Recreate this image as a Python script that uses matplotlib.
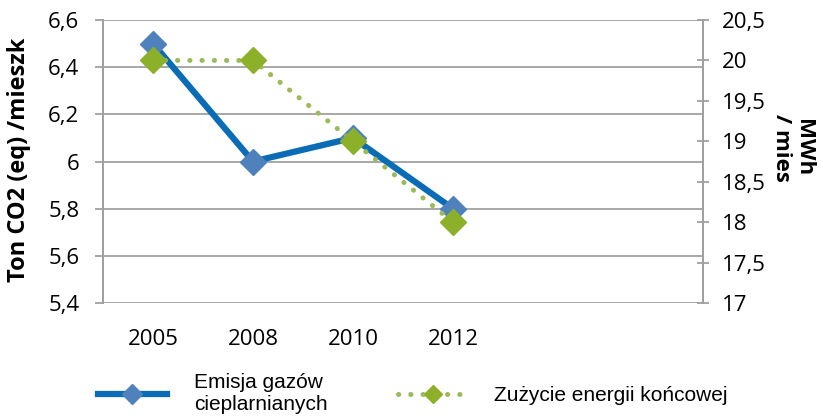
import numpy as np
import matplotlib
matplotlib.use("Agg")
import matplotlib.pyplot as plt
from matplotlib.ticker import FuncFormatter, MultipleLocator
from matplotlib.lines import Line2D

# data
years = ['2005', '2008', '2010', '2012']
n_slots = 6  # chart reserves room for 6 categories
emisja = [6.5, 6.0, 6.1, 5.8]
zuzycie = [20.0, 20.0, 19.0, 18.0]

label_emisja = 'Emisja gazów\ncieplarnianych'
label_zuzycie = 'Zużycie energii końcowej'
ylabel_left = 'Ton CO2 (eq) /mieszk'
ylabel_right = 'MWh\n/ mies'

blue_line = '#0a6cb4'
blue_marker = '#4f81bd'
green_line = '#9bbb59'
green_marker = '#8db02b'
grid_col = '#a0a0a0'

plt.rcParams['font.family'] = ['Open Sans', 'DejaVu Sans']


def comma(v, _):
    return ('%g' % v).replace('.', ',')


def main():
    fig = plt.figure(figsize=(8.23, 4.17), dpi=100)
    ax = fig.add_axes([103 / 823, 1 - 303 / 417, 600 / 823, 283 / 417])
    ax2 = ax.twinx()

    x = np.arange(len(years))
    ax.plot(x, emisja, color=blue_line, lw=4.5, marker='D', ms=13,
            mfc=blue_marker, mec=blue_marker, zorder=3)
    ax2.plot(x, zuzycie, color=green_line, lw=3.6, ls=(0, (0.05, 2.4)),
             dash_capstyle='round', marker='D', ms=13,
             mfc=green_marker, mec=green_marker, zorder=3)

    ax.set_xlim(-0.5, n_slots - 0.5)
    ax.set_xticks(x)
    ax.set_xticklabels(years)
    ax.set_ylim(5.4, 6.6)
    ax.yaxis.set_major_locator(MultipleLocator(0.2))
    ax.yaxis.set_major_formatter(FuncFormatter(comma))
    ax2.set_ylim(17, 20.5)
    ax2.yaxis.set_major_locator(MultipleLocator(0.5))
    ax2.yaxis.set_major_formatter(FuncFormatter(comma))

    ax.grid(axis='y', color=grid_col, lw=1.3)
    ax.set_axisbelow(True)
    for a in (ax, ax2):
        for s in ('top', 'bottom'):
            a.spines[s].set_visible(False)
        a.spines['left'].set_color(grid_col)
        a.spines['right'].set_color(grid_col)
        a.spines['left'].set_linewidth(1.3)
        a.spines['right'].set_linewidth(1.3)
    ax.tick_params(axis='x', length=0, labelsize=16, pad=19)
    ax.tick_params(axis='y', length=6, color=grid_col, width=1.3,
                   labelsize=16, pad=11)
    ax2.tick_params(axis='y', direction='inout', length=9, color=grid_col,
                    width=1.3, labelsize=16, pad=9)

    fig.text(0.023, 0.616, ylabel_left, rotation=90, fontsize=17,
             fontweight='bold', ha='center', va='center')
    fig.text(0.963, 0.645, ylabel_right, rotation=270, fontsize=16,
             fontweight='bold', ha='center', va='center', linespacing=1.1)

    handles = [
        Line2D([], [], color=blue_line, lw=4.5, marker='D', ms=10,
               mfc=blue_marker, mec=blue_marker),
        Line2D([], [], color=green_line, lw=3.6, ls=(0, (0.05, 2.4)),
               dash_capstyle='round', marker='D', ms=9,
               mfc=green_marker, mec=green_marker),
    ]
    fig.legend(handles, [label_emisja, label_zuzycie], ncol=2,
               loc='upper left', bbox_to_anchor=(0.119, 0.105),
               frameon=False, handlelength=3.3, handletextpad=1.3,
               columnspacing=3.4, borderaxespad=0, borderpad=0,
               prop={'family': 'Liberation Sans', 'size': 15})

    fig.savefig('out.png', dpi=100)


if __name__ == '__main__':
    main()
